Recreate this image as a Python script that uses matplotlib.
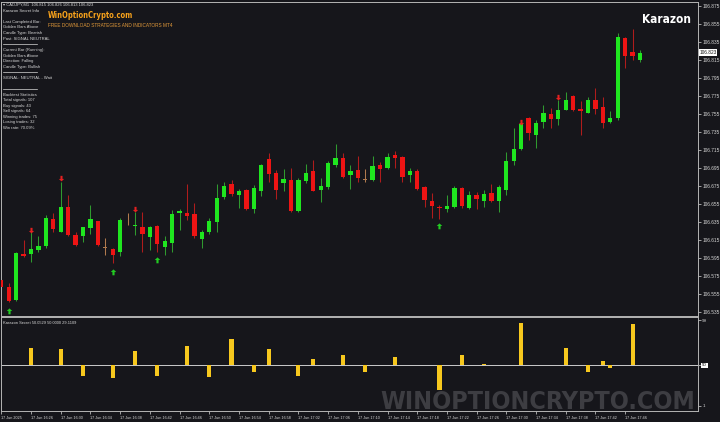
import matplotlib
matplotlib.use("Agg")
import matplotlib.pyplot as plt
from matplotlib import font_manager
from matplotlib.font_manager import FontProperties
from matplotlib.path import Path
import matplotlib.transforms as mtransforms
import numpy as np

# ---------------- data (CADJPY M1, 17 Jun 2025, 16:22 .. 17:48) ----------------
opens = [106.571, 106.563, 106.548, 106.599, 106.599, 106.604, 106.608, 106.638, 106.624, 106.652,
         106.621, 106.619, 106.628, 106.636, 106.607, 106.605, 106.602, 106.635, 106.631, 106.630,
         106.618, 106.631, 106.607, 106.612, 106.645, 106.645, 106.644, 106.616, 106.624, 106.635,
         106.663, 106.677, 106.665, 106.671, 106.649, 106.669, 106.705, 106.689, 106.678, 106.682,
         106.647, 106.681, 106.692, 106.671, 106.674, 106.698, 106.706, 106.687, 106.693, 106.682,
         106.682, 106.698, 106.695, 106.709, 106.707, 106.687, 106.692, 106.674, 106.658, 106.652,
         106.650, 106.652, 106.673, 106.651, 106.665, 106.658, 106.667, 106.658, 106.671, 106.703,
         106.716, 106.751, 106.732, 106.746, 106.755, 106.750, 106.760, 106.775, 106.761, 106.756,
         106.771, 106.763, 106.746, 106.751, 106.839, 106.824, 106.815]
highs = [106.572, 106.567, 106.602, 106.615, 106.626, 106.619, 106.643, 106.645, 106.680, 106.665,
         106.624, 106.624, 106.654, 106.636, 106.617, 106.606, 106.639, 106.645, 106.646, 106.646,
         106.631, 106.632, 106.619, 106.648, 106.649, 106.677, 106.656, 106.626, 106.639, 106.677,
         106.680, 106.682, 106.672, 106.672, 106.676, 106.700, 106.712, 106.693, 106.694, 106.695,
         106.684, 106.699, 106.704, 106.684, 106.703, 106.722, 106.712, 106.698, 106.708, 106.694,
         106.708, 106.702, 106.712, 106.714, 106.708, 106.695, 106.694, 106.675, 106.667, 106.654,
         106.665, 106.675, 106.674, 106.670, 106.668, 106.671, 106.677, 106.676, 106.713, 106.740,
         106.748, 106.752, 106.748, 106.765, 106.762, 106.771, 106.780, 106.776, 106.769, 106.774,
         106.784, 106.774, 106.758, 106.845, 106.841, 106.850, 106.826]
lows = [106.561, 106.546, 106.547, 106.596, 106.591, 106.602, 106.606, 106.624, 106.624, 106.620,
        106.608, 106.613, 106.622, 106.608, 106.598, 106.589, 106.597, 106.632, 106.621, 106.602,
        106.604, 106.602, 106.598, 106.602, 106.626, 106.637, 106.617, 106.606, 106.622, 106.624,
        106.661, 106.664, 106.651, 106.648, 106.645, 106.664, 106.680, 106.661, 106.669, 106.646,
        106.646, 106.678, 106.669, 106.657, 106.672, 106.696, 106.684, 106.672, 106.680, 106.679,
        106.681, 106.680, 106.694, 106.695, 106.680, 106.680, 106.671, 106.652, 106.640, 106.638,
        106.646, 106.651, 106.651, 106.650, 106.650, 106.652, 106.657, 106.646, 106.665, 106.698,
        106.715, 106.726, 106.717, 106.739, 106.739, 106.743, 106.759, 106.758, 106.732, 106.756,
        106.755, 106.740, 106.745, 106.748, 106.806, 106.815, 106.813]
closes = [106.563, 106.547, 106.601, 106.597, 106.605, 106.608, 106.640, 106.627, 106.652, 106.621,
          106.610, 106.629, 106.638, 106.609, 106.607, 106.598, 106.637, 106.635, 106.632, 106.622,
          106.630, 106.611, 106.614, 106.644, 106.647, 106.642, 106.619, 106.624, 106.636, 106.662,
          106.675, 106.666, 106.669, 106.650, 106.673, 106.698, 106.688, 106.671, 106.683, 106.647,
          106.682, 106.690, 106.670, 106.675, 106.701, 106.706, 106.685, 106.692, 106.684, 106.682,
          106.697, 106.694, 106.707, 106.706, 106.685, 106.692, 106.672, 106.659, 106.653, 106.651,
          106.653, 106.673, 106.653, 106.665, 106.661, 106.666, 106.658, 106.674, 106.703, 106.716,
          106.744, 106.734, 106.745, 106.756, 106.750, 106.760, 106.771, 106.760, 106.758, 106.771,
          106.761, 106.745, 106.751, 106.841, 106.819, 106.820, 106.823]

buy_idx = [1, 15, 21, 59]
buy_price = [106.536, 106.580, 106.593, 106.631]
sell_idx = [4, 8, 18, 70, 75]
sell_price = [106.626, 106.684, 106.649, 106.746, 106.774]

hist_idx = [4, 8, 11, 15, 18, 21, 25, 28, 31, 34, 36, 40, 42, 46, 49, 53, 59, 62, 65, 70, 76, 79, 81, 82, 85]
hist_val = [68.2, 67.1, 38.3, 36.2, 65.6, 38.3, 70.7, 37.3, 78.0, 42.0, 67.1, 38.3, 56.2, 60.9, 42.7,
            59.0, 22.8, 60.9, 50.6, 96.1, 68.2, 42.7, 54.7, 46.4, 94.3]

price_ticks = [106.875, 106.855, 106.835, 106.815, 106.795, 106.775, 106.755, 106.735, 106.715,
               106.695, 106.675, 106.655, 106.635, 106.615, 106.595, 106.575, 106.555, 106.535]
current_price = 106.823

time_idx = [0, 4, 8, 12, 16, 20, 24, 28, 32, 36, 40, 44, 48, 52, 56, 60, 64, 68, 72, 76, 80, 84]
time_labels = ["17 Jun 2025", "17 Jun 16:26", "17 Jun 16:30", "17 Jun 16:34", "17 Jun 16:38",
               "17 Jun 16:42", "17 Jun 16:46", "17 Jun 16:50", "17 Jun 16:54", "17 Jun 16:58",
               "17 Jun 17:02", "17 Jun 17:06", "17 Jun 17:10", "17 Jun 17:14", "17 Jun 17:18",
               "17 Jun 17:22", "17 Jun 17:26", "17 Jun 17:30", "17 Jun 17:34", "17 Jun 17:38",
               "17 Jun 17:42", "17 Jun 17:46"]

sub_ticks = [99, 50, 5]
sub_tick_labels = ["99", "50", "1"]

info_lines = [
    (11.0, "Karazon Secret Info"),
    (21.7, "Last Completed Bar:"),
    (27.5, "Golden Bars Above"),
    (33.2, "Candle Type: Bearish"),
    (38.7, "Past: SIGNAL NEUTRAL"),
    (50.0, "Current Bar (Running):"),
    (55.6, "Golden Bars Above"),
    (61.2, "Direction: Falling"),
    (66.7, "Candle Type: Bullish"),
    (77.7, "SIGNAL: NEUTRAL - Wait"),
    (94.7, "Backtest Statistics"),
    (100.2, "Total signals: 107"),
    (105.7, "Buy signals: 43"),
    (111.3, "Sell signals: 64"),
    (116.8, "Winning trades: 75"),
    (122.3, "Losing trades: 32"),
    (127.9, "Win rate: 70.09%"),
]
separators_y = [44.3, 72.0, 89.0]

# ---------------- style ----------------
BG = "#16161b"
UP = "#1fe61f"
DN = "#ee1414"
DOJI = "#b07a4e"
UP_W = "#2f9a2f"
DN_W = "#b01c1c"
HIST = "#f7c81e"
GRID_C = "#b4b4b4"
TXT = "#d8d8d8"

ttf = font_manager.fontManager.ttflist
names = {f.name for f in ttf}
SMALL = "Liberation Sans" if "Liberation Sans" in names else "DejaVu Sans"


def find_condensed_bold():
    for f in ttf:
        fn = f.fname.lower()
        if ("condensed" in fn or "narrow" in fn) and "bold" in fn and "italic" not in fn \
                and "oblique" not in fn:
            return f.fname
    return None


cond = find_condensed_bold()
BOLDC = FontProperties(fname=cond) if cond else FontProperties(family=SMALL, weight="bold")

W, H = 720, 422
fig = plt.figure(figsize=(W / 100, H / 100), dpi=100, facecolor=BG)


def rect(x0, y0, x1, y1):
    return [x0 / W, 1 - y1 / H, (x1 - x0) / W, (y1 - y0) / H]


def fx(px):
    return px / W


def fy(py):
    return 1 - py / H


ax = fig.add_axes(rect(1, 2, 698, 316))
axs = fig.add_axes(rect(1, 317, 698, 411))

x_left = (1 - 1.3) / 7.427
x_right = (698 - 1.3) / 7.427

for a in (ax, axs):
    a.set_facecolor(BG)
    for s in a.spines.values():
        s.set_color(GRID_C)
        s.set_linewidth(0.7)
    a.set_xlim(x_left, x_right)

# ---------------- candles ----------------
o = np.array(opens)
h = np.array(highs)
l = np.array(lows)
c = np.array(closes)
x = np.arange(len(o))
body_col = np.where(c > o, UP, np.where(c < o, DN, DOJI))
wick_col = np.where(c > o, UP_W, np.where(c < o, DN_W, DOJI))

ax.vlines(x, l, h, colors=wick_col, linewidth=0.75, zorder=2)
heights = np.maximum(np.abs(c - o), 0.0009)
bottoms = np.minimum(o, c) - np.where(np.abs(c - o) < 0.0009, 0.00045, 0)
ax.bar(x, heights, bottom=bottoms, width=0.58, color=body_col, edgecolor="none", zorder=3)

arrow_up = Path([(0, 1), (-0.9, 0.15), (-0.35, 0.15), (-0.35, -0.9), (0.35, -0.9), (0.35, 0.15),
                 (0.9, 0.15), (0, 1)], closed=True)
arrow_dn = Path([(0, -1), (-0.9, -0.15), (-0.35, -0.15), (-0.35, 0.9), (0.35, 0.9), (0.35, -0.15),
                 (0.9, -0.15), (0, -1)], closed=True)
ax.scatter(buy_idx, buy_price, marker=arrow_up, s=20, color="#22cc22", linewidths=0, zorder=4)
ax.scatter(sell_idx, sell_price, marker=arrow_dn, s=18, color="#e52020", linewidths=0, zorder=4)

ax.set_ylim(106.8817 - 316 / 900, 106.8817 - 2 / 900)
ax.yaxis.tick_right()
ax.set_yticks(price_ticks)
ax.set_yticklabels([f"{p:.3f}" for p in price_ticks])
ax.tick_params(axis="y", labelsize=3.4, colors=TXT, length=2, width=0.5, pad=1)
for t in ax.get_yticklabels():
    t.set_fontfamily(SMALL)
ax.set_xticks([])

tr = mtransforms.blended_transform_factory(ax.transAxes, ax.transData)
ax.text(1.002, current_price, f"{current_price:.3f}", transform=tr, fontsize=3.4, family=SMALL,
        color="#111111", va="center", ha="left",
        bbox=dict(facecolor="white", edgecolor="none", pad=0.6), clip_on=False)

# ---------------- sub window ----------------
hv = np.array(hist_val)
axs.bar(hist_idx, hv - 50, bottom=50, width=0.55, color=HIST, edgecolor="none", zorder=3)
axs.axhline(50, color="#e8e8e8", linewidth=0.6, zorder=2)
axs.set_ylim(-0.5, 102.5)
axs.yaxis.tick_right()
axs.set_yticks(sub_ticks)
axs.set_yticklabels(sub_tick_labels)
axs.tick_params(axis="y", labelsize=3.2, colors=TXT, length=2, width=0.5, pad=1)
for t in axs.get_yticklabels():
    t.set_fontfamily(SMALL)
    if t.get_text() == "50":
        t.set_color("#111111")
        t.set_bbox(dict(facecolor="white", edgecolor="none", pad=0.5))

axs.set_xticks(time_idx)
axs.set_xticklabels(time_labels)
axs.tick_params(axis="x", labelsize=2.7, colors=TXT, length=2, width=0.5, pad=1.5)
for t in axs.get_xticklabels():
    t.set_ha("left")
    t.set_fontfamily(SMALL)

axs.text(0.003, 0.955, "Karazon Secret 50.0529 50.0000 29.1109", transform=axs.transAxes,
         fontsize=2.9, family=SMALL, color=TXT, va="top", ha="left")

axs.text(fx(538), fy(409), "WINOPTIONCRYPTO.COM", transform=fig.transFigure,
         fontproperties=BOLDC, fontsize=18.0, color="#3d3d42",
         ha="center", va="baseline", zorder=1)

# ---------------- overlay texts ----------------
fig.text(fx(3), fy(5), "\u25be CADJPY,M1  106.815 106.826 106.813 106.823", fontsize=3.0,
         family=[SMALL, "DejaVu Sans"], color=TXT, va="center", ha="left")
for yy, s in info_lines:
    fig.text(fx(3), fy(yy), s, fontsize=3.0, family=SMALL, color=TXT, va="center", ha="left")
for yy in separators_y:
    fig.add_artist(plt.Line2D([fx(3), fx(37)], [fy(yy), fy(yy)], transform=fig.transFigure,
                              color=TXT, linewidth=0.5))

fig.text(fx(48), fy(18.5), "WinOptionCrypto.com", fontproperties=BOLDC, fontsize=5.5,
         color="#f7a21b", va="baseline", ha="left")
fig.text(fx(48), fy(25.5), "FREE DOWNLOAD STRATEGIES AND INDICATORS MT4", fontsize=3.4,
         family=SMALL, color="#e39a3a", va="center", ha="left")
fig.text(fx(691), fy(23.3), "Karazon", fontproperties=BOLDC, fontsize=8.5,
         color="white", va="baseline", ha="right")

fig.savefig("out.png", dpi=100, facecolor=BG)
